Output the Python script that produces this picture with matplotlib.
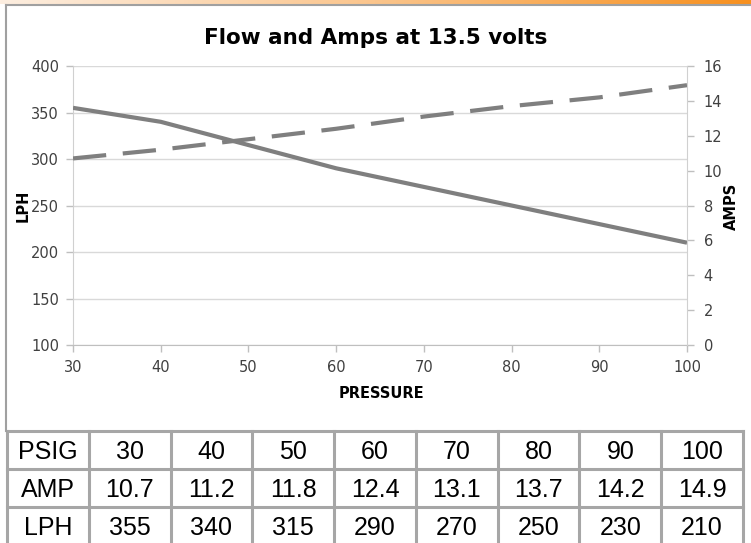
import matplotlib

matplotlib.use("Agg")
import matplotlib.pyplot as plt
import numpy as np
from matplotlib.colors import LinearSegmentedColormap

# data
psig = [30, 40, 50, 60, 70, 80, 90, 100]
amp = [10.7, 11.2, 11.8, 12.4, 13.1, 13.7, 14.2, 14.9]
lph = [355, 340, 315, 290, 270, 250, 230, 210]
amp_labels = ["10.7", "11.2", "11.8", "12.4", "13.1", "13.7", "14.2", "14.9"]

left_ticks = [100, 150, 200, 250, 300, 350, 400]
right_ticks = [0, 2, 4, 6, 8, 10, 12, 14, 16]

W, H = 751, 543
LINE = "#7f7f7f"
GRID = "#d9d9d9"
TXT = "#404040"
FONT = "DejaVu Sans"


def fx(px):
    return px / W


def fy(py):
    return 1 - py / H


fig = plt.figure(figsize=(W / 100, H / 100), dpi=100)

# orange header strip
bar = fig.add_axes([0, fy(4.5), 1, 4.5 / H])
cmap = LinearSegmentedColormap.from_list("hdr", ["#fdeee0", "#fbc58c", "#f7901e"])
bar.imshow(np.linspace(0, 1, 256).reshape(1, -1), aspect="auto", cmap=cmap, extent=[0, 1, 0, 1])
bar.axis("off")

# chart frame
fig.add_artist(plt.Line2D([fx(6), 1], [fy(5), fy(5)], color="#a0a0a0", lw=1.5))
fig.add_artist(plt.Line2D([fx(6), fx(6)], [fy(5), fy(431)], color="#a0a0a0", lw=1.5))

ax = fig.add_axes([fx(73), fy(345), fx(687 - 73), (345 - 66) / H])
ax2 = ax.twinx()

ax.plot(psig, lph, color=LINE, lw=3, solid_capstyle="butt", zorder=3)
ax2.plot(psig, amp, color=LINE, lw=3, dashes=(8, 4), zorder=3)

ax.set_xlim(30, 100)
ax.set_ylim(100, 400)
ax2.set_ylim(0, 16)
ax.set_xticks(psig)
ax.set_yticks(left_ticks)
ax2.set_yticks(right_ticks)
ax.grid(axis="y", color=GRID, lw=1)
ax.set_axisbelow(True)

for a in (ax, ax2):
    for s in a.spines.values():
        s.set_visible(False)
    a.tick_params(colors="#bfbfbf", labelcolor=TXT, labelsize=10.5, length=5, width=1)
    for lab in a.get_xticklabels() + a.get_yticklabels():
        lab.set_fontfamily(FONT)
ax.spines["bottom"].set_visible(True)
ax.spines["bottom"].set_color("#bfbfbf")
ax.spines["left"].set_visible(True)
ax.spines["left"].set_color("#d0d0d0")
ax2.spines["right"].set_visible(True)
ax2.spines["right"].set_color("#d0d0d0")
ax.tick_params(axis="x", pad=6)
ax.tick_params(axis="y", pad=5)
ax2.tick_params(axis="y", pad=7)

lab_kw = dict(fontfamily=FONT, fontweight="bold", fontsize=10.5, color="#000000")
fig.text(fx(23), fy(206), "LPH", rotation=90, ha="center", va="center", **lab_kw)
fig.text(fx(731), fy(206), "AMPS", rotation=90, ha="center", va="center", **lab_kw)
fig.text(fx(381), fy(393), "PRESSURE", ha="center", va="center", **lab_kw)
fig.text(fx(376), fy(38), "Flow and Amps at 13.5 volts", ha="center", va="center",
         fontfamily=FONT, fontweight="bold", fontsize=15.5)

# data table
row_h = 38
tab = fig.add_axes([fx(7), fy(431 + 3 * row_h), fx(743 - 7), 3 * row_h / H])
tab.set_xlim(0, 9)
tab.set_ylim(3, 0)
tab.axis("off")
rows = [["PSIG"] + [str(v) for v in psig],
        ["AMP"] + amp_labels,
        ["LPH"] + [str(v) for v in lph]]
for r, row in enumerate(rows):
    for c, val in enumerate(row):
        tab.text(c + 0.5, r + 0.55, val, ha="center", va="center",
                 fontfamily="Liberation Sans", fontsize=18, color="#000000")
for r in range(4):
    tab.plot([0, 9], [r, r], color="#a6a6a6", lw=2.2, clip_on=False)
for c in range(10):
    tab.plot([c, c], [0, 3], color="#a6a6a6", lw=2.2, clip_on=False)

fig.savefig("out.png", dpi=100)
